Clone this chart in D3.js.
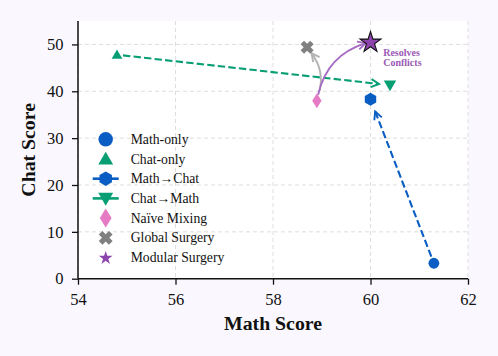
<!DOCTYPE html>
<html>
<head>
<meta charset="utf-8">
<script src="https://cdn.jsdelivr.net/npm/d3@7"></script>
<style>
  html, body { margin: 0; padding: 0; background: #faf8fe; }
  svg { display: block; }
  svg text { font-family: "Liberation Serif", "Times New Roman", "DejaVu Serif", serif !important; }
</style>
</head>
<body>
<svg id="chart" width="498" height="356"></svg>
<script>
// ---------------- data ----------------
const seriesNames = ["Math-only", "Chat-only", "Math\u2192Chat", "Chat\u2192Math", "Na\u00efve Mixing", "Global Surgery", "Modular Surgery"];
const mathScores  = [61.3, 54.8, 60.0, 60.4, 58.9, 58.7, 60.0];
const chatScores  = [3.3, 47.8, 38.3, 41.3, 38.0, 49.4, 50.6];
const xTicks = [54, 56, 58, 60, 62];
const yTicks = [0, 10, 20, 30, 40, 50];
const arrowFrom = [0, 1, 4, 4];
const arrowTo   = [2, 3, 5, 6];
const annotationLines = ["Resolves", "Conflicts"];

// ---------------- styles ----------------
const SERIF = '"Liberation Serif", "Times New Roman", "DejaVu Serif", serif';
const colors  = ["#0a5dc2", "#079e74", "#0a5dc2", "#079e74", "#e47bc4", "#808080", "#8e44ad"];
const shapes  = ["circle", "triUp", "hex", "triDown", "diamond", "x", "star"];
const sizes   = [5.4, 6.2, 6.6, 7.2, 7.5, 6.8, 11];
const legendSizes = [7.2, 8.6, 7.2, 8.6, 9.5, 7.2, 7.2];
const legendLine = [false, false, true, true, false, false, false];
const arrowColors = ["#0a5dc2", "#079e74", "#b3b3b3", "#a66bc2"];
const arrowDash   = [true, true, false, false];
const arrowRad    = [0, 0, -0.24, 0.29];
const arrowShrinkA = [7, 6, 10, 6];
const arrowShrinkB = [13, 11, 7.5, 5];

const W = 498, H = 356;
const pLeft = 78, pRight = 468, pTop = 21, pBottom = 278.7;
const svg = d3.select("#chart");

const x = d3.scaleLinear().domain([54, 62]).range([pLeft, pRight]);
const y = d3.scaleLinear().domain([0, 55]).range([pBottom, pTop]);

// plot background
svg.append("rect").attr("x", pLeft).attr("y", pTop).attr("width", pRight - pLeft).attr("height", pBottom - pTop).attr("fill", "#ffffff");

// grid
const grid = svg.append("g");
grid.selectAll("line.gx").data(xTicks).join("line").attr("class", "gx")
  .attr("x1", d => x(d)).attr("x2", d => x(d)).attr("y1", pTop).attr("y2", pBottom)
  .attr("stroke", "#dedede").attr("stroke-width", 1).attr("stroke-dasharray", "4,3");
grid.selectAll("line.gy").data(yTicks).join("line").attr("class", "gy")
  .attr("x1", pLeft).attr("x2", pRight).attr("y1", d => y(d)).attr("y2", d => y(d))
  .attr("stroke", "#dedede").attr("stroke-width", 1).attr("stroke-dasharray", "4,3");

// axes
const xAxis = svg.append("g").attr("transform", `translate(0,${pBottom})`)
  .call(d3.axisBottom(x).tickValues(xTicks).tickFormat(d3.format("d")).tickSize(6).tickPadding(8.5));
const yAxis = svg.append("g").attr("transform", `translate(${pLeft},0)`)
  .call(d3.axisLeft(y).tickValues(yTicks).tickFormat(d3.format("d")).tickSize(6).tickPadding(8.5));
[xAxis, yAxis].forEach(a => {
  a.attr("font-family", SERIF).attr("font-size", 16.5);
  a.select(".domain").attr("stroke", "#111").attr("stroke-width", 1.5);
  a.selectAll(".tick line").attr("stroke", "#111").attr("stroke-width", 1.3);
  a.selectAll(".tick text").style("font-size", "16.5px").attr("fill", "#111").style("font-family", SERIF);
});
xAxis.select(".domain").attr("d", `M${pLeft},0H${pRight}`);
yAxis.select(".domain").attr("d", `M0,${pTop}V${pBottom}`);

// axis titles
svg.append("text").attr("x", (pLeft + pRight) / 2).attr("y", 330).attr("text-anchor", "middle")
  .style("font-family", SERIF).style("font-size", "19.8px").attr("font-weight", "bold").attr("fill", "#111").text("Math Score");
svg.append("text").attr("transform", `translate(34.5,${(pTop + pBottom) / 2}) rotate(-90)`).attr("text-anchor", "middle")
  .style("font-family", SERIF).style("font-size", "19.8px").attr("font-weight", "bold").attr("fill", "#111").text("Chat Score");

// ---------------- marker shapes ----------------
function shapePath(shape, r) {
  const pts = [];
  if (shape === "circle") {
    return `M${r},0A${r},${r} 0 1,1 ${-r},0A${r},${r} 0 1,1 ${r},0Z`;
  }
  if (shape === "triUp") {
    for (let i = 0; i < 3; i++) { const a = -Math.PI / 2 + i * 2 * Math.PI / 3; pts.push([r * Math.cos(a), r * Math.sin(a) + r * 0.15]); }
  } else if (shape === "triDown") {
    for (let i = 0; i < 3; i++) { const a = Math.PI / 2 + i * 2 * Math.PI / 3; pts.push([r * Math.cos(a), r * Math.sin(a) - r * 0.15]); }
  } else if (shape === "hex") {
    for (let i = 0; i < 6; i++) { const a = -Math.PI / 2 + i * Math.PI / 3; pts.push([r * Math.cos(a), r * Math.sin(a)]); }
  } else if (shape === "diamond") {
    const w = r * 0.62;
    pts.push([0, -r], [w, 0], [0, r], [-w, 0]);
  } else if (shape === "x") {
    const a = r, b = r * 0.36;
    const plus = [[-b, -a], [b, -a], [b, -b], [a, -b], [a, b], [b, b], [b, a], [-b, a], [-b, b], [-a, b], [-a, -b], [-b, -b]];
    const c = Math.SQRT1_2;
    plus.forEach(([px, py]) => pts.push([(px - py) * c, (px + py) * c]));
  } else if (shape === "star") {
    const ri = r * 0.382;
    for (let i = 0; i < 10; i++) {
      const a = -Math.PI / 2 + i * Math.PI / 5; const rr = i % 2 === 0 ? r : ri;
      pts.push([rr * Math.cos(a), rr * Math.sin(a) + r * 0.08]);
    }
  }
  return "M" + pts.map(p => p[0].toFixed(2) + "," + p[1].toFixed(2)).join("L") + "Z";
}

// ---------------- arrows ----------------
const arrowG = svg.append("g");
arrowFrom.forEach((fi, k) => {
  const ti = arrowTo[k];
  const p0 = [x(mathScores[fi]), y(chatScores[fi])];
  const p1 = [x(mathScores[ti]), y(chatScores[ti])];
  const rad = arrowRad[k];
  let mx = (p0[0] + p1[0]) / 2, my = (p0[1] + p1[1]) / 2;
  let dx = p1[0] - p0[0], dy = p1[1] - p0[1];
  let c = [mx + rad * dy, my - rad * dx];
  const dirA = [c[0] - p0[0], c[1] - p0[1]]; const la = Math.hypot(dirA[0], dirA[1]);
  const dirB = [p1[0] - c[0], p1[1] - c[1]]; const lb = Math.hypot(dirB[0], dirB[1]);
  const s = [p0[0] + dirA[0] / la * arrowShrinkA[k], p0[1] + dirA[1] / la * arrowShrinkA[k]];
  const e = [p1[0] - dirB[0] / lb * arrowShrinkB[k], p1[1] - dirB[1] / lb * arrowShrinkB[k]];
  mx = (s[0] + e[0]) / 2; my = (s[1] + e[1]) / 2; dx = e[0] - s[0]; dy = e[1] - s[1];
  c = [mx + rad * dy, my - rad * dx];
  const col = arrowColors[k];
  const path = rad === 0 ? `M${s[0]},${s[1]}L${e[0]},${e[1]}` : `M${s[0]},${s[1]}Q${c[0]},${c[1]} ${e[0]},${e[1]}`;
  arrowG.append("path").attr("d", path).attr("fill", "none").attr("stroke", col)
    .attr("stroke-width", rad === 0 ? 2.1 : 1.9)
    .attr("stroke-dasharray", arrowDash[k] ? "7.4,3.2" : null);
  const t = [e[0] - c[0], e[1] - c[1]]; const lt = Math.hypot(t[0], t[1]);
  const u = [t[0] / lt, t[1] / lt]; const n = [-u[1], u[0]];
  const hl = 8, hw = 4;
  const h1 = [e[0] - u[0] * hl + n[0] * hw, e[1] - u[1] * hl + n[1] * hw];
  const h2 = [e[0] - u[0] * hl - n[0] * hw, e[1] - u[1] * hl - n[1] * hw];
  arrowG.append("path").attr("d", `M${h1[0]},${h1[1]}L${e[0]},${e[1]}L${h2[0]},${h2[1]}`)
    .attr("fill", "none").attr("stroke", col).attr("stroke-width", 1.9).attr("stroke-linejoin", "miter");
});

// ---------------- points ----------------
const ptsG = svg.append("g");
seriesNames.forEach((name, i) => {
  ptsG.append("path")
    .attr("transform", `translate(${x(mathScores[i])},${y(chatScores[i])})`)
    .attr("d", shapePath(shapes[i], sizes[i]))
    .attr("fill", colors[i])
    .attr("stroke", shapes[i] === "star" ? "#111" : "none")
    .attr("stroke-width", shapes[i] === "star" ? 1.1 : 0);
});

// annotation
const starIdx = 6;
const ann = svg.append("text")
  .attr("x", x(mathScores[starIdx]) + 12.7).attr("y", y(chatScores[starIdx]) + 14)
  .style("font-family", SERIF).style("font-size", "10px").attr("font-weight", "bold").attr("fill", "#9b59b6");
annotationLines.forEach((l, i) => ann.append("tspan").attr("x", x(mathScores[starIdx]) + 12.7).attr("dy", i === 0 ? 0 : 10).text(l));

// ---------------- legend ----------------
const lg = svg.append("g");
const lx = 105.7, ltx = 130.7, ly0 = 139.3, lstep = 19.7;
seriesNames.forEach((name, i) => {
  const yy = ly0 + i * lstep;
  if (legendLine[i]) {
    lg.append("line").attr("x1", lx - 13).attr("x2", lx + 13).attr("y1", yy).attr("y2", yy)
      .attr("stroke", colors[i]).attr("stroke-width", 2.6);
  }
  lg.append("path").attr("transform", `translate(${lx},${yy})`)
    .attr("d", shapePath(shapes[i], legendSizes[i])).attr("fill", colors[i]);
  lg.append("text").attr("x", ltx).attr("y", yy).attr("dy", "0.33em")
    .style("font-family", SERIF).style("font-size", "13.7px").attr("fill", "#111").text(name);
});
</script>
</body>
</html>
